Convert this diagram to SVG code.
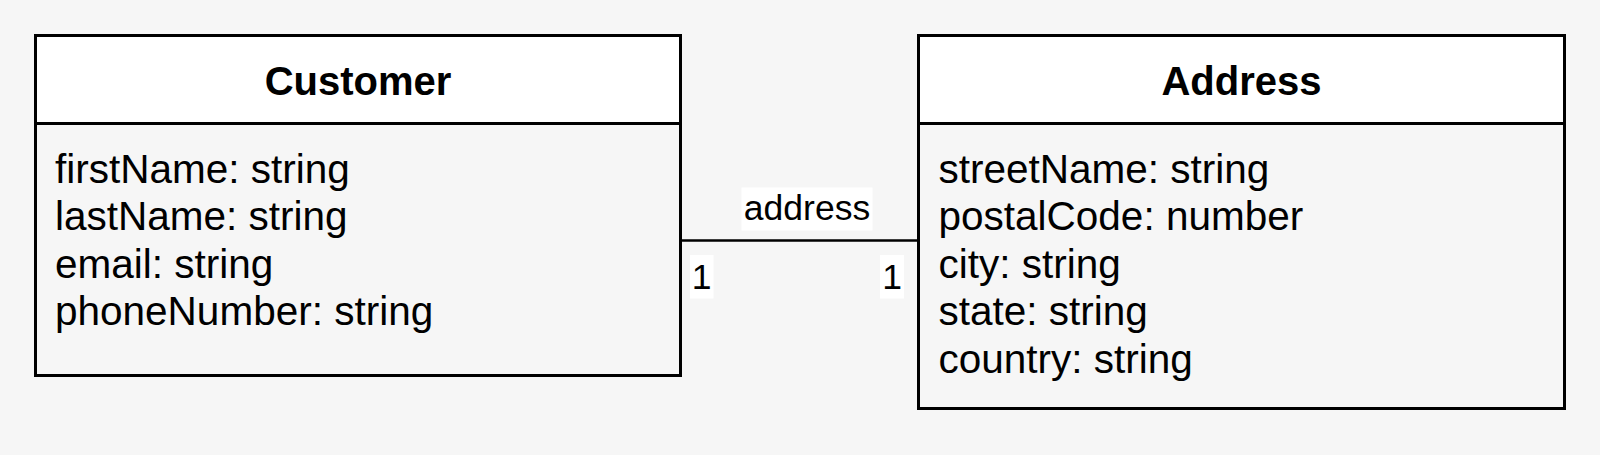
<svg xmlns="http://www.w3.org/2000/svg" width="1600" height="455" viewBox="0 0 1600 455">
<style>
.bg{fill:#f6f6f6}
.box{fill:#f6f6f6;stroke:#000;stroke-width:3}
.head{fill:#ffffff;stroke:#000;stroke-width:3}
.title{font-family:"Liberation Sans",Arial,Helvetica,sans-serif;font-size:40px;font-weight:bold;fill:#000;text-anchor:middle}
.attr{font-family:"Liberation Sans",Arial,Helvetica,sans-serif;font-size:40.5px;fill:#000}
.lbl{font-family:"Liberation Sans",Arial,Helvetica,sans-serif;font-size:35.5px;fill:#000;text-anchor:middle}
.lblbg{fill:#ffffff}
.edge{stroke:#000;stroke-width:2.5;fill:none}
</style>
<rect class="bg" x="0" y="0" width="1600" height="455"/>
<g id="connectors">
<line class="edge" x1="680.5" y1="240.5" x2="918.5" y2="240.5"/>
<rect class="lblbg" x="741.5" y="187.5" width="131" height="43"/>
<text class="lbl" x="807" y="220">address</text>
<rect class="lblbg" x="690" y="255" width="23.5" height="43.5"/>
<text class="lbl" x="701.5" y="288.5">1</text>
<rect class="lblbg" x="880" y="255" width="24" height="43.5"/>
<text class="lbl" x="892" y="288.5">1</text>
</g>
<g id="customer">
<rect class="box" x="35.5" y="35.5" width="645" height="340"/>
<rect class="head" x="35.5" y="35.5" width="645" height="88"/>
<text class="title" x="358" y="94.5">Customer</text>
<text class="attr" x="55" y="182.5">firstName: string</text>
<text class="attr" x="55" y="230">lastName: string</text>
<text class="attr" x="55" y="277.5">email: string</text>
<text class="attr" x="55" y="325">phoneNumber: string</text>
</g>
<g id="address">
<rect class="box" x="918.5" y="35.5" width="646" height="373"/>
<rect class="head" x="918.5" y="35.5" width="646" height="88"/>
<text class="title" x="1241.5" y="94.5">Address</text>
<text class="attr" x="938.5" y="182.5">streetName: string</text>
<text class="attr" x="938.5" y="230">postalCode: number</text>
<text class="attr" x="938.5" y="277.5">city: string</text>
<text class="attr" x="938.5" y="325">state: string</text>
<text class="attr" x="938.5" y="372.5">country: string</text>
</g>
</svg>
